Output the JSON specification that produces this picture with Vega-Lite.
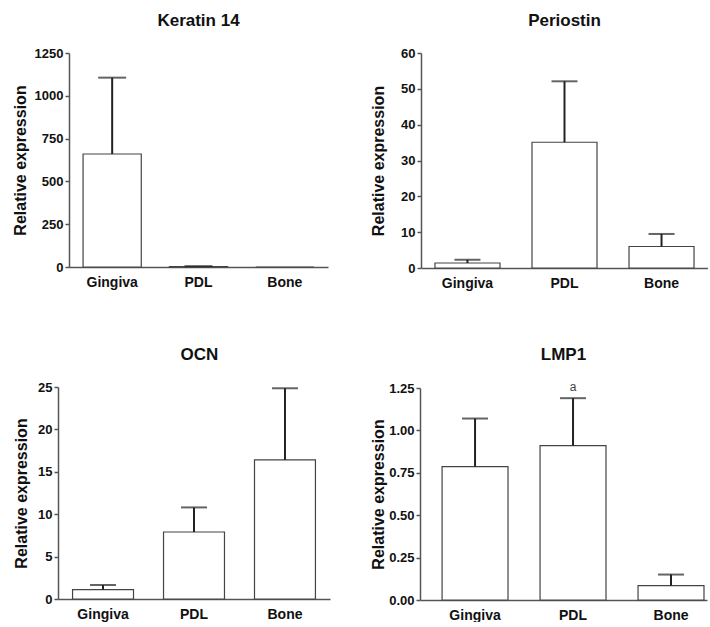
{
  "$schema": "https://vega.github.io/schema/vega-lite/v6.json",
  "padding": {"left": 12, "top": 12, "right": 0, "bottom": 0},
  "background": "white",
  "config": {
    "view": {"stroke": null},
    "font": "Liberation Sans",
    "title": {"fontSize": 17, "fontWeight": "bold", "color": "#111", "offset": 17},
    "axis": {"domainColor": "#555", "domainWidth": 1.5, "labelFontWeight": "bold", "labelFontSize": 13, "labelColor": "#111", "titleFontSize": 16, "titleFontWeight": "bold", "titleColor": "#111", "grid": false, "labelOverlap": false},
    "axisX": {"ticks": false, "labelAngle": 0, "labelPadding": 8, "title": null, "labelFontSize": 14},
    "axisY": {"tickColor": "#555", "tickSize": 4, "tickWidth": 1.5, "labelPadding": 2, "titlePadding": 8, "tickCount": 10}
  },
  "data": {"values": [
    {"gene": "Keratin 14", "tissue": "Gingiva", "mean": 660, "upper": 1106, "label": ""},
    {"gene": "Keratin 14", "tissue": "PDL", "mean": 3, "upper": 5, "label": ""},
    {"gene": "Keratin 14", "tissue": "Bone", "mean": 0, "upper": null, "label": ""},
    {"gene": "Periostin", "tissue": "Gingiva", "mean": 1.4, "upper": 2.3, "label": ""},
    {"gene": "Periostin", "tissue": "PDL", "mean": 35.1, "upper": 52.1, "label": ""},
    {"gene": "Periostin", "tissue": "Bone", "mean": 6.0, "upper": 9.5, "label": ""},
    {"gene": "OCN", "tissue": "Gingiva", "mean": 1.1, "upper": 1.65, "label": ""},
    {"gene": "OCN", "tissue": "PDL", "mean": 7.9, "upper": 10.8, "label": ""},
    {"gene": "OCN", "tissue": "Bone", "mean": 16.4, "upper": 24.85, "label": ""},
    {"gene": "LMP1", "tissue": "Gingiva", "mean": 0.786, "upper": 1.07, "label": ""},
    {"gene": "LMP1", "tissue": "PDL", "mean": 0.91, "upper": 1.19, "label": "a"},
    {"gene": "LMP1", "tissue": "Bone", "mean": 0.085, "upper": 0.15, "label": ""}
  ]},
  "columns": 2,
  "align": "none",
  "spacing": {"row": 56, "column": 29},
  "concat": [
    {
      "width": 259, "height": 214,
      "title": "Keratin 14",
      "transform": [{"filter": "datum.gene === 'Keratin 14'"}],
      "encoding": {"x": {"field": "tissue", "type": "nominal", "sort": ["Gingiva", "PDL", "Bone"], "scale": {"paddingInner": 0.326, "paddingOuter": 0.163}}},
      "layer": [
        {"mark": {"type": "bar", "fill": "white", "stroke": "#444", "strokeWidth": 1.2}, "encoding": {"y": {"field": "mean", "type": "quantitative", "scale": {"domain": [0, 1250], "nice": false}, "axis": {"values": [0, 250, 500, 750, 1000, 1250], "format": "d", "title": "Relative expression", "titlePadding": 6}}}},
        {"mark": {"type": "rule", "strokeWidth": 2, "color": "#222"}, "encoding": {"y": {"field": "mean", "type": "quantitative"}, "y2": {"field": "upper"}}},
        {"mark": {"type": "tick", "thickness": 2, "size": 28, "color": "#222"}, "encoding": {"y": {"field": "upper", "type": "quantitative"}}}
      ]
    },
    {
      "width": 287, "height": 215,
      "title": "Periostin",
      "transform": [{"filter": "datum.gene === 'Periostin'"}],
      "encoding": {"x": {"field": "tissue", "type": "nominal", "sort": ["Gingiva", "PDL", "Bone"], "scale": {"paddingInner": 0.33, "paddingOuter": 0.144}}},
      "layer": [
        {"mark": {"type": "bar", "fill": "white", "stroke": "#444", "strokeWidth": 1.2}, "encoding": {"y": {"field": "mean", "type": "quantitative", "scale": {"domain": [0, 60], "nice": false}, "axis": {"values": [0, 10, 20, 30, 40, 50, 60], "format": "d", "title": "Relative expression", "titlePadding": 14}}}},
        {"mark": {"type": "rule", "strokeWidth": 2, "color": "#222"}, "encoding": {"y": {"field": "mean", "type": "quantitative"}, "y2": {"field": "upper"}}},
        {"mark": {"type": "tick", "thickness": 2, "size": 26, "color": "#222"}, "encoding": {"y": {"field": "upper", "type": "quantitative"}}}
      ]
    },
    {
      "width": 261, "height": 212,
      "title": "OCN",
      "transform": [{"filter": "datum.gene === 'OCN'"}],
      "encoding": {"x": {"field": "tissue", "type": "nominal", "sort": ["Gingiva", "PDL", "Bone"], "scale": {"range": [-11, 261], "paddingInner": 0.33, "paddingOuter": 0.16}}},
      "layer": [
        {"mark": {"type": "bar", "fill": "white", "stroke": "#444", "strokeWidth": 1.2}, "encoding": {"y": {"field": "mean", "type": "quantitative", "scale": {"domain": [0, 25], "nice": false}, "axis": {"values": [0, 5, 10, 15, 20, 25], "format": "d", "title": "Relative expression", "offset": 11}}}},
        {"mark": {"type": "rule", "strokeWidth": 2, "color": "#222"}, "encoding": {"y": {"field": "mean", "type": "quantitative"}, "y2": {"field": "upper"}}},
        {"mark": {"type": "tick", "thickness": 2, "size": 26, "color": "#222"}, "encoding": {"y": {"field": "upper", "type": "quantitative"}}}
      ]
    },
    {
      "width": 287, "height": 212,
      "title": "LMP1",
      "transform": [{"filter": "datum.gene === 'LMP1'"}],
      "encoding": {"x": {"field": "tissue", "type": "nominal", "sort": ["Gingiva", "PDL", "Bone"], "scale": {"paddingInner": 0.327, "paddingOuter": 0.128, "align": 0.88}}},
      "layer": [
        {"mark": {"type": "bar", "fill": "white", "stroke": "#444", "strokeWidth": 1.2}, "encoding": {"y": {"field": "mean", "type": "quantitative", "scale": {"domain": [0, 1.25], "nice": false}, "axis": {"values": [0, 0.25, 0.5, 0.75, 1, 1.25], "format": ".2f", "title": "Relative expression", "titlePadding": 2}}}},
        {"mark": {"type": "rule", "strokeWidth": 2, "color": "#222"}, "encoding": {"y": {"field": "mean", "type": "quantitative"}, "y2": {"field": "upper"}}},
        {"mark": {"type": "tick", "thickness": 2, "size": 26, "color": "#222"}, "encoding": {"y": {"field": "upper", "type": "quantitative"}}},
        {"mark": {"type": "text", "dy": -11, "fontSize": 12, "color": "#444"}, "encoding": {"y": {"field": "upper", "type": "quantitative"}, "text": {"field": "label"}}}
      ]
    }
  ]
}
